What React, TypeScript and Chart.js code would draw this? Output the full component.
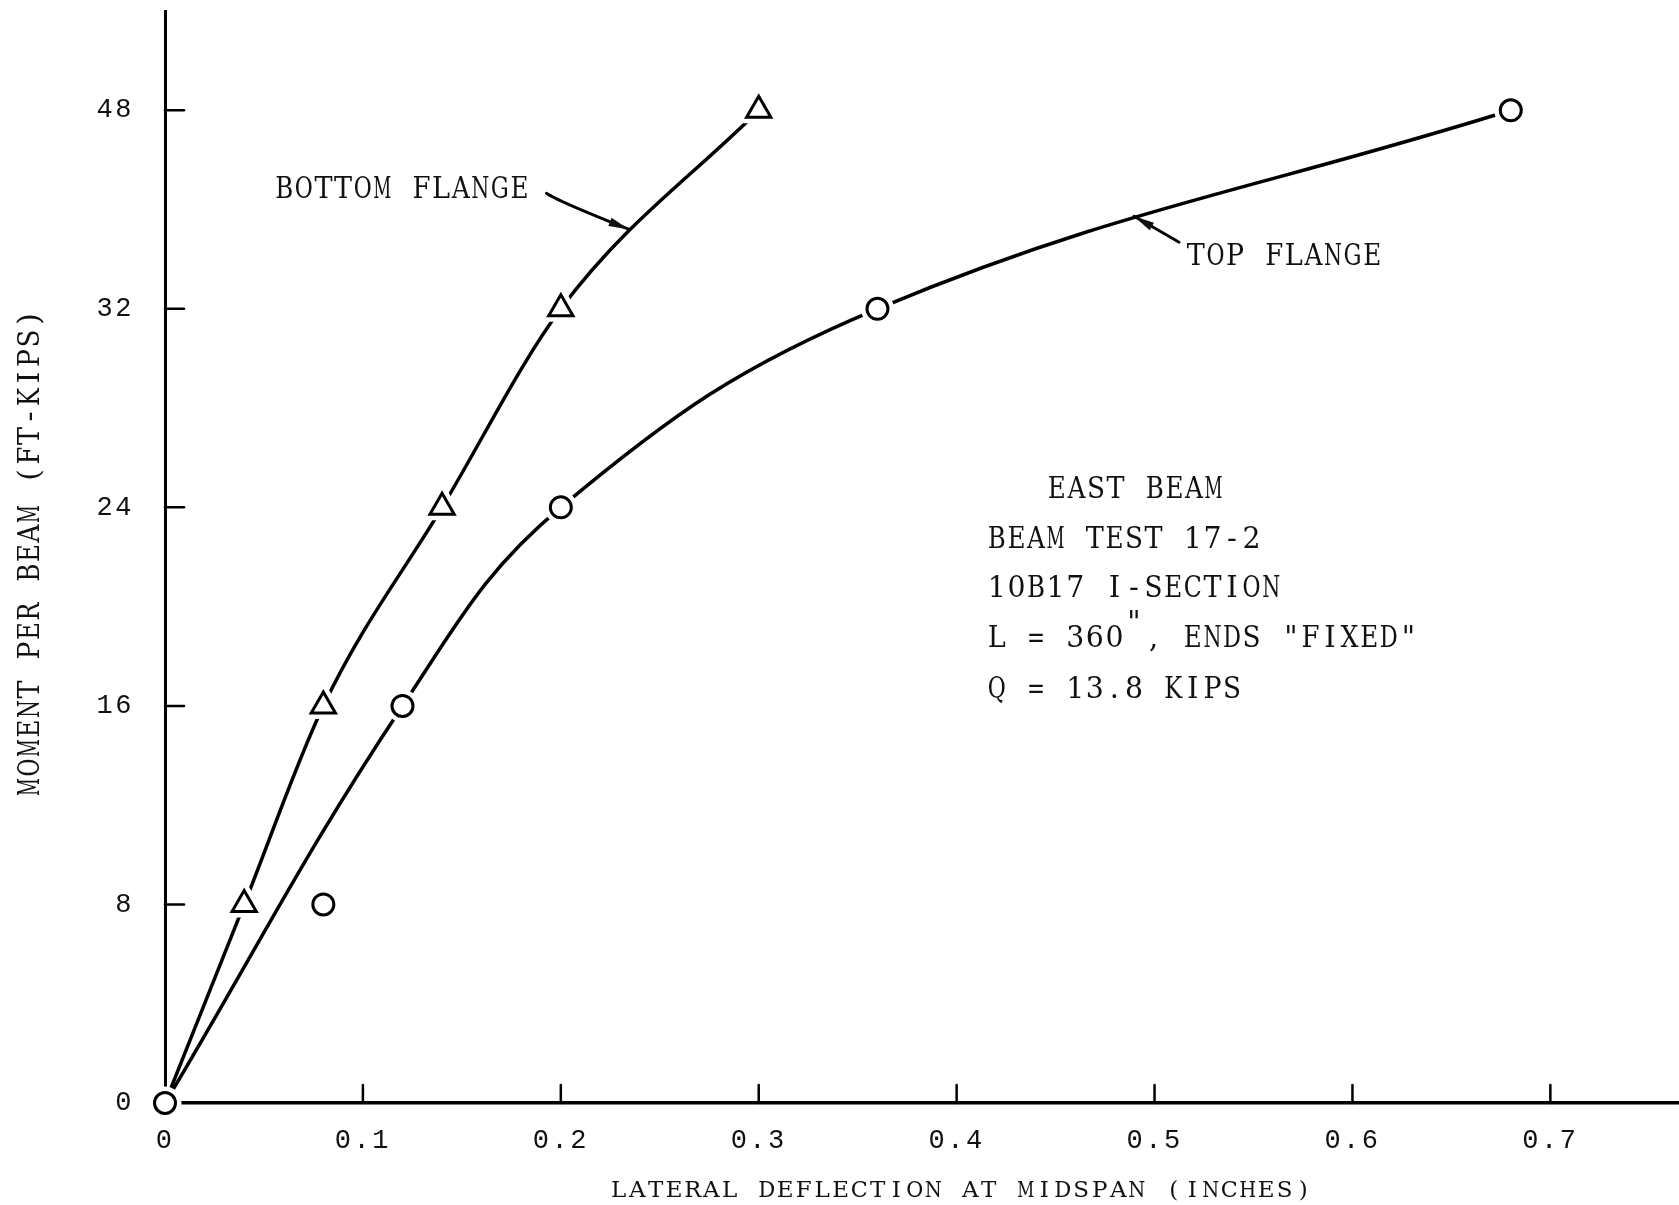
import React, { useEffect, useRef } from "react";
import { Chart, registerables } from "chart.js";

Chart.register(...registerables);

const WIDTH = 1679;
const HEIGHT = 1205;
const MONO = '"Liberation Mono", "DejaVu Sans Mono", monospace';
const TYPE = '"DejaVu Serif", "Liberation Serif", serif';

// Moment scale as printed on the axis (steps of 8 up to 32, then 48)
const momentTicks = [0, 8, 16, 24, 32, 48];
const momentTickLabels = ["0", "8", "16", "24", "32", "48"];
const deflectionTicks = [0, 0.1, 0.2, 0.3, 0.4, 0.5, 0.6, 0.7];
const deflectionTickLabels = ["0", "0.1", "0.2", "0.3", "0.4", "0.5", "0.6", "0.7"];

// Bottom flange readings (triangles)
const bottomDeflection = [0.04, 0.08, 0.14, 0.2, 0.3];
const bottomMoment = [8, 16, 24, 32, 48];

// Top flange readings (circles)
const topDeflection = [0, 0.08, 0.12, 0.2, 0.36, 0.68];
const topMoment = [0, 8, 16, 24, 32, 48];
// readings the faired top-flange curve is drawn through
const topFaired = [true, false, true, true, true, true];

const noteLines = ["EAST BEAM", "BEAM TEST 17-2", "10B17 I-SECTION", "Q = 13.8 KIPS"];

// Position on the printed moment scale: each printed step is one axis unit.
function toAxis(m: number): number {
  const t = momentTicks;
  for (let i = 0; i < t.length - 1; i++) {
    if (m <= t[i + 1]) return i + (m - t[i]) / (t[i + 1] - t[i]);
  }
  const n = t.length - 1;
  return n + (m - t[n]) / (t[n] - t[n - 1]);
}

const toPoints = (xs: number[], ys: number[]) =>
  xs.map((x, i) => ({ x, y: toAxis(ys[i]) }));

// Typewriter-style text: one glyph per fixed-width cell.
function typeText(ctx: CanvasRenderingContext2D, text: string, x: number, y: number, cell: number) {
  ctx.save();
  ctx.textAlign = "center";
  const maxW = cell * 0.92;
  for (let i = 0; i < text.length; i++) {
    const ch = text[i];
    if (ch === " ") continue;
    const cx = x + cell * (i + 0.5);
    const w = ctx.measureText(ch).width;
    if (w > maxW) {
      ctx.save();
      ctx.translate(cx, y);
      ctx.scale(maxW / w, 1);
      ctx.fillText(ch, 0, 0);
      ctx.restore();
    } else {
      ctx.fillText(ch, cx, y);
    }
  }
  ctx.restore();
}

function arrow(ctx: CanvasRenderingContext2D, x0: number, y0: number, cx: number, cy: number, x1: number, y1: number) {
  ctx.beginPath();
  ctx.moveTo(x0, y0);
  ctx.quadraticCurveTo(cx, cy, x1, y1);
  ctx.stroke();
  const a = Math.atan2(y1 - cy, x1 - cx);
  const len = 21;
  const half = 0.21;
  ctx.beginPath();
  ctx.moveTo(x1, y1);
  ctx.lineTo(x1 - len * Math.cos(a - half), y1 - len * Math.sin(a - half));
  ctx.lineTo(x1 - len * Math.cos(a + half), y1 - len * Math.sin(a + half));
  ctx.closePath();
  ctx.fill();
}

const decorations = {
  id: "decorations",
  beforeDraw(chart: any) {
    chart.ctx.letterSpacing = "2.5px";
  },
  beforeDatasetsDraw(chart: any) {
    const ctx: CanvasRenderingContext2D = chart.ctx;
    ctx.letterSpacing = "0px";
    const xs = chart.scales.x;
    const ys = chart.scales.y;
    const x0 = xs.getPixelForValue(0);
    const y0 = ys.getPixelForValue(0);
    ctx.save();
    ctx.strokeStyle = "#000";
    ctx.lineWidth = 2.5;
    ctx.lineCap = "round";
    // tick marks pointing into the plot
    for (let i = 1; i < momentTicks.length; i++) {
      const py = ys.getPixelForValue(i);
      ctx.beginPath();
      ctx.moveTo(x0, py);
      ctx.lineTo(x0 + 19, py);
      ctx.stroke();
    }
    for (let i = 1; i < deflectionTicks.length; i++) {
      const px = xs.getPixelForValue(deflectionTicks[i]);
      ctx.beginPath();
      ctx.moveTo(px, y0);
      ctx.lineTo(px, y0 - 18);
      ctx.stroke();
    }
    ctx.restore();
  },
  afterDraw(chart: any) {
    const ctx: CanvasRenderingContext2D = chart.ctx;
    const xs = chart.scales.x;
    const ys = chart.scales.y;
    const X = (v: number) => xs.getPixelForValue(v);
    const Y = (v: number) => ys.getPixelForValue(v);
    ctx.save();
    ctx.fillStyle = "#111";
    ctx.strokeStyle = "#000";
    ctx.letterSpacing = "0px";
    ctx.textBaseline = "alphabetic";

    // axis titles
    ctx.font = `23px ${TYPE}`;
    const xTitle = "LATERAL DEFLECTION AT MIDSPAN (INCHES)";
    typeText(ctx, xTitle, 961 - (xTitle.length * 18.5) / 2, 1197, 18.5);

    ctx.save();
    ctx.translate(39, 553);
    ctx.rotate(-Math.PI / 2);
    ctx.font = `30px ${TYPE}`;
    const yTitle = "MOMENT PER BEAM (FT-KIPS)";
    typeText(ctx, yTitle, -(yTitle.length * 19.5) / 2, 0, 19.5);
    ctx.restore();

    // curve labels
    ctx.font = `29px ${TYPE}`;
    typeText(ctx, "BOTTOM FLANGE", X(0.0553), Y(4.556), 19.6);
    typeText(ctx, "TOP FLANGE", X(0.5159), Y(4.219), 19.6);

    ctx.lineWidth = 2.8;
    ctx.lineCap = "round";
    arrow(ctx, X(0.1927), Y(4.582), X(0.199), Y(4.54), X(0.2345), Y(4.4));
    arrow(ctx, X(0.5124), Y(4.335), X(0.503), Y(4.39), X(0.4896), Y(4.466));

    // test description
    const cell = 19.6;
    typeText(ctx, noteLines[0], 1047, 498, cell);
    typeText(ctx, noteLines[1], 987, 548, cell);
    typeText(ctx, noteLines[2], 987, 597, cell);
    typeText(ctx, "L = 360", 987, 647, cell);
    typeText(ctx, '"', 987 + cell * 7, 647 - 15, cell);
    typeText(ctx, ', ENDS "FIXED"', 987 + cell * 8, 647, cell);
    typeText(ctx, noteLines[3], 987, 698, cell);
    ctx.restore();
  },
};

const noPadding = (s: any) => {
  s.paddingTop = 0;
  s.paddingBottom = 0;
  s.paddingLeft = 0;
  s.paddingRight = 0;
};

export default function App() {
  const canvasRef = useRef<HTMLCanvasElement | null>(null);

  useEffect(() => {
    const canvas = canvasRef.current;
    if (!canvas) return;

    const origin = { x: topDeflection[0], y: toAxis(topMoment[0]) };
    const bottomPts = toPoints(bottomDeflection, bottomMoment);
    const topPts = toPoints(topDeflection, topMoment);
    const bottomCurve = [origin, ...bottomPts];
    const topCurve = topPts.filter((_, i) => topFaired[i]);

    const curve = (data: any[], fairing: any) => ({
      data,
      showLine: true,
      borderColor: "#000",
      borderWidth: 3.5,
      pointRadius: 0,
      order: 3,
      ...fairing,
    });
    const markers = (data: any[], style: string, radius: number, halo: boolean) => ({
      data,
      showLine: false,
      clip: false,
      pointStyle: style,
      pointRadius: radius,
      pointBorderWidth: halo ? 12 : 3,
      pointBorderColor: halo ? "#fff" : "#000",
      pointBackgroundColor: "#fff",
      order: halo ? 2 : 1,
    });

    const chart = new Chart(canvas, {
      type: "scatter",
      data: {
        datasets: [
          curve(bottomCurve, { cubicInterpolationMode: "monotone" }),
          curve(topCurve, { tension: 0.4 }),
          markers(bottomPts, "triangle", 14, true),
          markers(topPts, "circle", 10.5, true),
          markers(bottomPts, "triangle", 14, false),
          markers(topPts, "circle", 10.5, false),
        ] as any,
      },
      options: {
        responsive: false,
        animation: false,
        devicePixelRatio: 1,
        events: [],
        layout: { autoPadding: false, padding: { top: 11, right: 0, left: 0, bottom: 0 } },
        plugins: {
          legend: { display: false },
          tooltip: { enabled: false },
          title: { display: false },
        },
        scales: {
          x: {
            type: "linear",
            min: 0,
            max: 0.765,
            grid: { display: false, drawTicks: false },
            border: { display: true, color: "#000", width: 3.5 },
            afterBuildTicks: (s: any) => {
              s.ticks = deflectionTicks.map((v) => ({ value: v }));
            },
            afterFit: (s: any) => {
              s.height = HEIGHT - 1103;
              noPadding(s);
            },
            ticks: {
              autoSkip: false,
              maxRotation: 0,
              padding: 22,
              color: "#111",
              font: { family: MONO, size: 27 },
              callback: (v: any) => {
                const i = deflectionTicks.findIndex((t) => Math.abs(t - v) < 1e-9);
                return i >= 0 ? deflectionTickLabels[i] : "";
              },
            },
          },
          y: {
            type: "linear",
            min: 0,
            max: 5.5,
            grid: { display: false, drawTicks: false },
            border: { display: true, color: "#000", width: 3 },
            afterBuildTicks: (s: any) => {
              s.ticks = momentTicks.map((_, i) => ({ value: i }));
            },
            afterFit: (s: any) => {
              s.width = 165;
              noPadding(s);
            },
            ticks: {
              autoSkip: false,
              padding: 31,
              color: "#111",
              font: { family: MONO, size: 27 },
              callback: (v: any) => momentTickLabels[Math.round(v)] ?? "",
            },
          },
        },
      },
      plugins: [decorations],
    });

    return () => chart.destroy();
  }, []);

  return (
    <div style={{ position: "absolute", left: 0, top: 0, width: WIDTH, height: HEIGHT, background: "#fff" }}>
      <canvas ref={canvasRef} width={WIDTH} height={HEIGHT} />
    </div>
  );
}
